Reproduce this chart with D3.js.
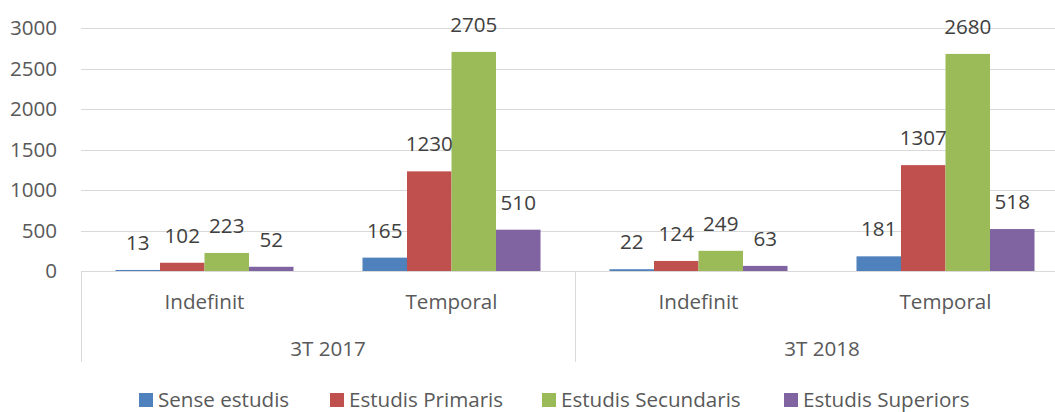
<!DOCTYPE html>
<html>
<head>
<meta charset="utf-8">
<script src="https://cdn.jsdelivr.net/npm/d3@7"></script>
<style>
  html, body { margin: 0; padding: 0; background: #fff; }
  svg { display: block; font-family: "Open Sans", sans-serif; }
</style>
</head>
<body>
<svg id="chart" width="1055" height="412"></svg>
<script>
const periods = ["3T 2017", "3T 2018"];
const contracts = ["Indefinit", "Temporal"];
const seriesNames = ["Sense estudis", "Estudis Primaris", "Estudis Secundaris", "Estudis Superiors"];
const colors = ["#4F81BD", "#C0504D", "#9BBB59", "#8064A2"];
// values per series, in order: 2017 Indefinit, 2017 Temporal, 2018 Indefinit, 2018 Temporal
const senseEstudis = [13, 165, 22, 181];
const estudisPrimaris = [102, 1230, 124, 1307];
const estudisSecundaris = [223, 2705, 249, 2680];
const estudisSuperiors = [52, 510, 63, 518];
const yTicks = [0, 500, 1000, 1500, 2000, 2500, 3000];

(function () {
const FS = 20.6;
const seriesValues = [senseEstudis, estudisPrimaris, estudisSecundaris, estudisSuperiors];
const cats = [];
periods.forEach(p => contracts.forEach(c => cats.push(p + "|" + c)));

const svg = d3.select("#chart");
const W = 1055;
const plotLeft = 81, plotRight = 1069, plotTop = 28, plotBottom = 271, axisBottom = 362;

const y = d3.scaleLinear().domain([0, 3000]).range([plotBottom, plotTop]);
const xCat = d3.scaleBand().domain(cats).range([plotLeft, plotRight]).padding(0);
const xPeriod = d3.scaleBand().domain(periods).range([plotLeft, plotRight]).padding(0);
const xSeries = d3.scaleBand().domain(d3.range(seriesNames.length))
  .range([0, xCat.bandwidth()]).paddingInner(0).paddingOuter(0.775);

// gridlines
svg.append("g").selectAll("line").data(yTicks.filter(t => t > 0)).join("line")
  .attr("x1", plotLeft).attr("x2", W)
  .attr("y1", d => Math.round(y(d)) + 0.5).attr("y2", d => Math.round(y(d)) + 0.5)
  .attr("stroke", "#D9D9D9").attr("stroke-width", 1);

// y tick labels
svg.append("g").selectAll("text").data(yTicks).join("text")
  .attr("x", 57).attr("y", d => y(d))
  .attr("dy", "0.35em").attr("text-anchor", "end")
  .attr("font-size", FS).attr("fill", "#595959")
  .text(d => d);

// bars
const flat = [];
seriesValues.forEach((arr, si) => arr.forEach((v, ci) => flat.push({ si, ci, v })));
svg.append("g").selectAll("rect").data(flat).join("rect")
  .attr("x", d => xCat(cats[d.ci]) + xSeries(d.si))
  .attr("width", xSeries.bandwidth())
  .attr("y", d => y(d.v))
  .attr("height", d => y(0) - y(d.v))
  .attr("fill", d => colors[d.si]);

// value labels
svg.append("g").selectAll("text").data(flat).join("text")
  .attr("x", d => xCat(cats[d.ci]) + xSeries(d.si) + xSeries.bandwidth() / 2)
  .attr("y", d => y(d.v) - 20)
  .attr("text-anchor", "middle")
  .attr("font-size", FS).attr("fill", "#404040")
  .text(d => d.v);

// category axis
const ax = svg.append("g").attr("stroke", "#D9D9D9").attr("stroke-width", 1);
ax.append("line").attr("x1", plotLeft).attr("x2", W).attr("y1", plotBottom + 0.5).attr("y2", plotBottom + 0.5);
periods.forEach(p => {
  [xPeriod(p), xPeriod(p) + xPeriod.bandwidth()].forEach(xx => {
    if (xx < W) ax.append("line")
      .attr("x1", Math.round(xx) + 0.5).attr("x2", Math.round(xx) + 0.5)
      .attr("y1", plotBottom).attr("y2", axisBottom);
  });
});

svg.append("g").selectAll("text").data(cats).join("text")
  .attr("x", d => xCat(d) + xCat.bandwidth() / 2)
  .attr("y", 309)
  .attr("text-anchor", "middle")
  .attr("font-size", FS).attr("fill", "#595959")
  .text(d => d.split("|")[1]);

svg.append("g").selectAll("text").data(periods).join("text")
  .attr("x", d => xPeriod(d) + xPeriod.bandwidth() / 2)
  .attr("y", 356)
  .attr("text-anchor", "middle")
  .attr("font-size", FS).attr("fill", "#595959")
  .text(d => d);

// legend
const legendX = [139, 330, 542, 784];
const lg = svg.append("g").selectAll("g").data(seriesNames).join("g")
  .attr("transform", (d, i) => `translate(${legendX[i]},393)`);
lg.append("rect").attr("width", 14).attr("height", 14).attr("fill", (d, i) => colors[i]);
lg.append("text").attr("x", 19).attr("y", 7).attr("dy", "0.35em")
  .attr("font-size", FS).attr("fill", "#595959").text(d => d);
})();
</script>
</body>
</html>
